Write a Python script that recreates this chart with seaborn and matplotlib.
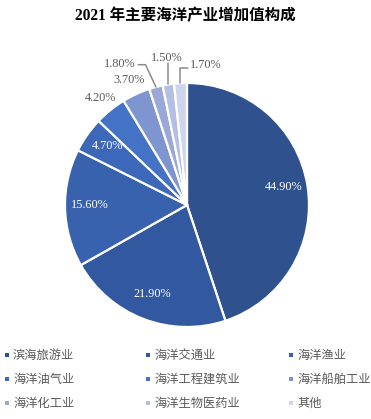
import numpy as np
import matplotlib
matplotlib.use("Agg")
import matplotlib.pyplot as plt
import seaborn as sns
from matplotlib.patches import Rectangle

categories = ["滨海旅游业", "海洋交通业", "海洋渔业", "海洋油气业", "海洋工程建筑业",
              "海洋船舶工业", "海洋化工业", "海洋生物医药业", "其他"]
values = [44.9, 21.9, 15.6, 4.7, 4.2, 3.7, 1.8, 1.5, 1.7]
labels = ["44.90%", "21.90%", "15.60%", "4.70%", "4.20%", "3.70%", "1.80%", "1.50%", "1.70%"]
colors = ["#2F528F", "#3258A0", "#3861AE", "#3D68BA", "#4472C4",
          "#7F95D0", "#9AA8D8", "#B4BEE2", "#CED5EC"]
title = "2021 年主要海洋产业增加值构成"

sns.set_theme(style="white")
plt.rcParams['font.family'] = ['Liberation Serif', 'Noto Sans CJK SC', 'DejaVu Sans']

W, H = 371, 419
fig = plt.figure(figsize=(W / 100, H / 100), dpi=100)
fig.patch.set_facecolor("white")

cx, cy, R = 187, 205, 122
ax = fig.add_axes([(cx - R) / W, 1 - (cy + R) / H, 2 * R / W, 2 * R / H])
wedges, _ = ax.pie(values, colors=colors, startangle=90, counterclock=False,
                   radius=1.0, wedgeprops=dict(edgecolor="white", linewidth=1.6))
ax.set_xlim(-1, 1)
ax.set_ylim(-1, 1)
ax.set_aspect("equal")
ax.axis("off")

serif = ['Liberation Serif', 'DejaVu Serif']
fs = 8.8
grey = "#595959"
lc = "#8C8C8C"
for i, w in enumerate(wedges):
    mid = np.deg2rad((w.theta1 + w.theta2) / 2)
    c, s = np.cos(mid), np.sin(mid)
    if i < 4:
        d = 0.8
        ax.text(d * c, d * s + 0.02, labels[i], ha="center", va="center", color="white",
                fontsize=fs, family=serif)
    elif i < 6:
        d = 1.13
        ax.text(d * c, d * s, labels[i], ha="center", va="center", color=grey,
                fontsize=fs, family=serif)
    else:
        ex, ey = c, s
        if i == 6:
            ax.plot([ex, -0.34, -0.40], [ey, 1.15, 1.15], color=lc, lw=1.1,
                    clip_on=False, zorder=5)
            ax.text(-0.42, 1.155, labels[i], ha="right", va="center", color=grey,
                    fontsize=fs, family=serif)
        elif i == 7:
            ax.plot([ex, ex], [ey, 1.16], color=lc, lw=1.1, clip_on=False, zorder=5)
            ax.text(-0.165, 1.205, labels[i], ha="center", va="center", color=grey,
                    fontsize=fs, family=serif)
        else:
            ax.plot([ex, ex, 0.01], [ey, 1.12, 1.12], color=lc, lw=1.1,
                    clip_on=False, zorder=5)
            ax.text(0.025, 1.15, labels[i], ha="left", va="center", color=grey,
                    fontsize=fs, family=serif)

fig.text(0.5, 1 - 16 / H, title, ha="center", va="center", fontsize=11.2,
         fontweight="bold", color="black",
         family=['Liberation Serif', 'Noto Sans CJK SC'])

col_x = [7, 148, 291]
row_y = [355, 379, 403]
for i, (cat, col) in enumerate(zip(categories, colors)):
    r, cidx = divmod(i, 3)
    x, y = col_x[cidx], row_y[r]
    fig.add_artist(Rectangle(((x - 2) / W, 1 - (y + 2) / H), 4 / W, 4 / H,
                             transform=fig.transFigure, facecolor=col, edgecolor="none"))
    fig.text((x + 6) / W, 1 - y / H, cat, ha="left", va="center", fontsize=8.8,
             color=grey, family=['Noto Sans CJK SC'])

fig.savefig("out.png", dpi=100, facecolor="white")
